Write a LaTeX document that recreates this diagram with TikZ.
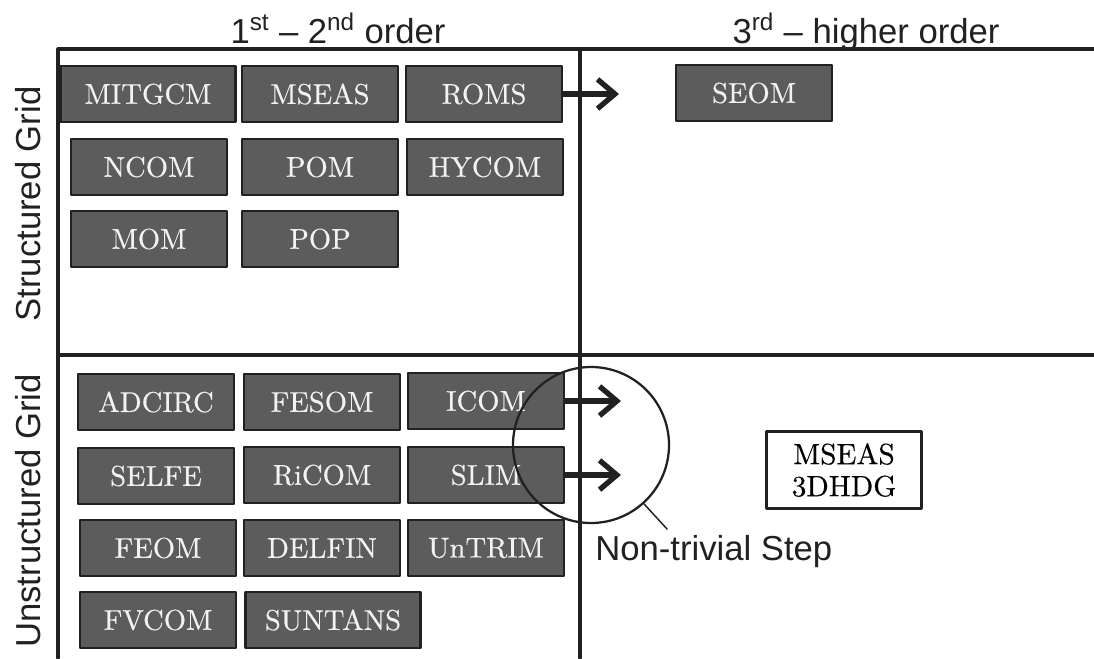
\documentclass[tikz,border=0pt]{standalone}
\usepackage{fontspec}
\newfontfamily\labelfont{Liberation Sans}
\newfontfamily\boxfont{lmroman10-regular}[Extension=.otf,FakeBold=0.4]
\usetikzlibrary{arrows.meta}
\definecolor{boxgray}{gray}{0.36}
\definecolor{boxtext}{gray}{0.95}
\definecolor{inkgray}{gray}{0.13}
\tikzset{
  model/.style={draw=inkgray,fill=boxgray,text=boxtext,line width=2.2pt,
    minimum width=117pt,minimum height=42pt,inner sep=0pt,
    font=\boxfont\fontsize{21.5}{24}\selectfont},
  wide/.style={minimum width=131pt},
  rule/.style={line width=2.3pt,draw=inkgray},
  heading/.style={font=\labelfont\fontsize{26}{30}\selectfont,text=inkgray,inner sep=0pt},
  flow/.style={->,line width=4pt,draw=inkgray},
}
\begin{document}
\begin{tikzpicture}[x=0.75pt,y=-0.75pt,line cap=round,line join=round,
  >={Straight Barb[length=13pt,width=22pt]}]
  \useasboundingbox (0,0) rectangle (1094,658);
  \draw[rule] (58,658)--(58,49)--(1094,49);
  \draw[rule] (580,49)--(580,658);
  \draw[rule] (58,355)--(1094,355);
  \node[heading,anchor=base] (loworder) at (338,43) {1\textsuperscript{st} – 2\textsuperscript{nd} order};
  \node[heading,anchor=base] (highorder) at (866,43) {3\textsuperscript{rd} – higher order};
  \node[heading,anchor=base,rotate=90] (structured) at (40,204) {Structured Grid};
  \node[heading,anchor=base,rotate=90] (unstructured) at (40,511) {Unstructured Grid};
  \node[model,wide] (mitgcm) at (148,94) {MITGCM};
  \node[model] (mseas) at (320,94) {MSEAS};
  \node[model] (roms) at (484,94) {ROMS};
  \node[model] (ncom) at (149,167) {NCOM};
  \node[model] (pom) at (320,167) {POM};
  \node[model] (hycom) at (485,167) {HYCOM};
  \node[model] (mom) at (149,239) {MOM};
  \node[model] (pop) at (320,239) {POP};
  \node[model] (seom) at (754,93) {SEOM};
  \node[model] (adcirc) at (156,402) {ADCIRC};
  \node[model] (fesom) at (322,402) {FESOM};
  \node[model] (icom) at (486,401) {ICOM};
  \node[model] (selfe) at (156,476) {SELFE};
  \node[model] (ricom) at (322,475) {RiCOM};
  \node[model] (slim) at (486,475) {SLIM};
  \node[model] (feom) at (158,548) {FEOM};
  \node[model] (delfin) at (322,548) {DELFIN};
  \node[model] (untrim) at (486,548) {UnTRIM};
  \node[model] (fvcom) at (158,620) {FVCOM};
  \node[model,wide] (suntans) at (333,620) {SUNTANS};
  \node[draw=inkgray,line width=2.2pt,fill=white,minimum width=116pt,minimum height=58pt,
    inner sep=0pt,align=center,font=\boxfont\fontsize{22}{24}\selectfont] (hdg) at (844,470) {MSEAS\\3DHDG};
  \coordinate (romsTip) at (619,94);
  \coordinate (icomTip) at (621,401);
  \coordinate (slimTip) at (621,475);
  \draw[flow] (roms.east) -- (romsTip);
  \draw[flow] (icom.east) -- (icomTip);
  \draw[flow] (slim.east) -- (slimTip);
  \node[draw=inkgray,circle,line width=1.7pt,minimum size=117pt,inner sep=0pt] (hard) at (591,445) {};
  \coordinate (hardTag) at (667,529);
  \draw[line width=1.1pt,draw=inkgray] (hard.-48) -- (hardTag);
  \node[heading,anchor=base west] (steptext) at (595,560) {Non-trivial Step};
\end{tikzpicture}
\end{document}
